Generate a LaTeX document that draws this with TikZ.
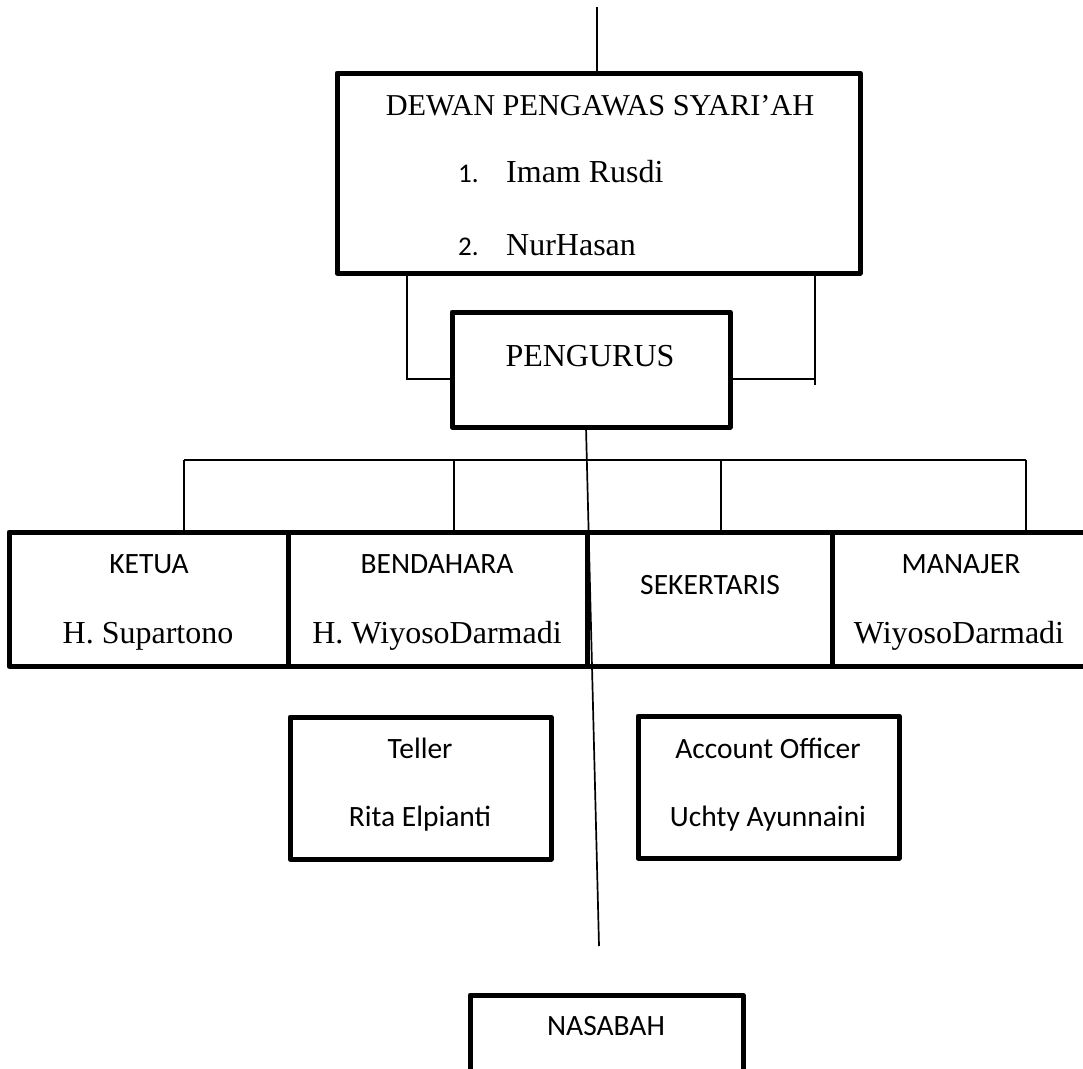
\documentclass[tikz,border=0pt]{standalone}
\usepackage{fontspec}
\setmainfont{Liberation Serif}
\newfontfamily\carl{Carlito}
\begin{document}
\begin{tikzpicture}[x=1pt,y=-1pt,
  box/.style={draw, line width=5pt, line join=round, inner sep=0pt, outer sep=0pt, anchor=north west},
  link/.style={line width=1.7pt},
  serif/.style={anchor=base, inner sep=0pt, font=\fontsize{32}{38}\selectfont},
  sans/.style={anchor=base, inner sep=0pt, font=\carl\fontsize{29.5}{35}\selectfont}]
\clip (0,0) rectangle (1083,1068);
\fill[white] (0,0) rectangle (1083,1068);
% boxes
\node[box, minimum width=523pt, minimum height=200pt] (dewan) at (337,73) {};
\node[box, minimum width=278pt, minimum height=115pt] (pengurus) at (452,312) {};
\node[box, minimum width=279pt, minimum height=134pt] (ketua) at (9,532) {};
\node[box, minimum width=299pt, minimum height=134pt] (bendahara) at (288,532) {};
\node[box, minimum width=245pt, minimum height=134pt] (sekertaris) at (587,532) {};
\node[box, minimum width=300pt, minimum height=134pt] (manajer) at (832,532) {};
\node[box, minimum width=261pt, minimum height=142pt] (teller) at (290,717) {};
\node[box, minimum width=261pt, minimum height=142pt] (ao) at (638,716) {};
\node[box, minimum width=273pt, minimum height=120pt] (nasabah) at (470,995) {};
% texts
\node[serif, font=\fontsize{30.3}{36}\selectfont] (tdewan) at (600,115) {DEWAN PENGAWAS SYARI’AH};
\node[sans, anchor=base west, font=\carl\fontsize{27}{32}\selectfont] (n1) at (458,182) {1.};
\node[serif, anchor=base west] (tim) at (506,182) {Imam Rusdi};
\node[sans, anchor=base west, font=\carl\fontsize{27}{32}\selectfont] (n2) at (458,255) {2.};
\node[serif, anchor=base west] (tnh) at (506,255) {NurHasan};
\node[serif] (tpeng) at (590,366) {PENGURUS};
\node[sans] (tketua) at (149,573) {KETUA};
\node[serif] (tsup) at (148,643) {H. Supartono};
\node[sans] (tbend) at (437,573) {BENDAHARA};
\node[serif] (twd) at (437,643) {H. WiyosoDarmadi};
\node[sans] (tsek) at (710,594) {SEKERTARIS};
\node[sans] (tman) at (961,573) {MANAJER};
\node[serif] (twd2) at (959,643) {WiyosoDarmadi};
\node[sans] (ttel) at (420,758) {Teller};
\node[sans] (trita) at (420,826) {Rita Elpianti};
\node[sans] (tao) at (768,758) {Account Officer};
\node[sans] (tuch) at (768,826) {Uchty Ayunnaini};
\node[sans] (tnas) at (606,1035) {NASABAH};
% connectors
\coordinate (topend) at (597,7);
\draw[link] (topend) -- (topend |- dewan.north);
\coordinate (lx) at (407,379);
\draw[link] (lx |- dewan.south) -- (lx) -- (lx -| pengurus.west);
\coordinate (rx) at (815,379);
\coordinate (rxe) at (815,385);
\draw[link] (rx |- dewan.south) -- (rxe);
\draw[link] (pengurus.east |- rx) -- (rx);
\coordinate (bK) at (184,460);
\coordinate (bB) at (454,460);
\coordinate (bS) at (721,460);
\coordinate (bM) at (1026,460);
\draw[link] (bK) -- (bM);
\draw[link] (bK) -- (bK |- ketua.north);
\draw[link] (bB) -- (bB |- bendahara.north);
\draw[link] (bS) -- (bS |- sekertaris.north);
\draw[link] (bM) -- (bM |- manajer.north);
\coordinate (pstart) at (586,427);
\coordinate (vend) at (599,946);
\draw[link] (pstart) -- (vend);
\end{tikzpicture}
\end{document}
